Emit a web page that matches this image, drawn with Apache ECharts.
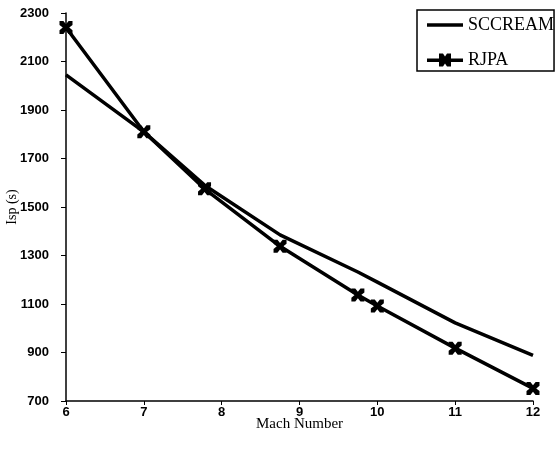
<!DOCTYPE html>
<html>
<head>
<meta charset="utf-8">
<script src="https://cdn.jsdelivr.net/npm/echarts@6/dist/echarts.min.js"></script>
<style>
  html, body { margin: 0; padding: 0; background: #fff; }
  #chart { width: 560px; height: 456px; }
</style>
</head>
<body>
<div id="chart"></div>
<script>
// Mach number vs Isp
const machScream = [6, 7, 7.78, 8.75, 9.75, 10, 11, 12]
const ispScream = [2045, 1810, 1590, 1385, 1232, 1190, 1022, 888]

const machRjpa = [6, 7, 7.78, 8.75, 9.75, 10, 11, 12]
const ispRjpa = [2240, 1810, 1575, 1338, 1137, 1092, 918, 752]

const starPath = 'path://M0,0 L6,0 L10,5 L14,0 L20,0 L20,6 L15,10 L20,14 L20,20 L14,20 L10,15 L6,20 L0,20 L0,14 L5,10 L0,6 Z'

const labelFont = {
  color: '#000',
  fontFamily: 'Liberation Sans',
  fontWeight: 'bold',
  fontSize: 13,
  formatter: v => String(v)
}

const option = {
  animation: false,
  grid: { left: 66, right: 27, top: 13, bottom: 55, outerBoundsMode: 'none', containLabel: false },
  legend: {
    orient: 'vertical',
    left: 417,
    top: 10,
    padding: [6, 0, 2, 10],
    itemWidth: 36,
    itemHeight: 14,
    itemGap: 17,
    borderColor: '#000',
    borderWidth: 1.5,
    textStyle: { color: '#000', fontFamily: 'Liberation Serif', fontSize: 18, padding: [8, 0, 0, 0] },
    data: [
      { name: 'SCCREAM', icon: 'path://M0,5 L36,5 L36,8.5 L0,8.5 Z' },
      { name: 'RJPA', icon: 'path://M0,5 L12,5 L12,0 L16,0 L18,3 L20,0 L24,0 L24,5 L36,5 L36,8.5 L24,8.5 L24,13 L20,13 L18,10 L16,13 L12,13 L12,8.5 L0,8.5 Z' }
    ]
  },
  xAxis: {
    type: 'value',
    min: 6,
    max: 12,
    interval: 1,
    name: 'Mach Number',
    nameLocation: 'middle',
    nameGap: 16,
    nameMoveOverlap: false,
    nameTextStyle: { color: '#000', fontFamily: 'Liberation Serif', fontSize: 15 },
    splitLine: { show: false },
    axisLine: { lineStyle: { color: '#000', width: 1.5 } },
    axisTick: { length: 4, lineStyle: { color: '#000' } },
    axisLabel: Object.assign({}, labelFont, { margin: 5 })
  },
  yAxis: {
    type: 'value',
    min: 700,
    max: 2300,
    interval: 200,
    name: 'Isp (s)',
    nameLocation: 'middle',
    nameGap: 47,
    nameMoveOverlap: false,
    nameTextStyle: { color: '#000', fontFamily: 'Liberation Serif', fontSize: 14 },
    splitLine: { show: false },
    axisLine: { show: true, lineStyle: { color: '#000', width: 1.5 } },
    axisTick: { show: true, length: 5, lineStyle: { color: '#000' } },
    axisLabel: Object.assign({}, labelFont, { margin: 17 })
  },
  series: [
    {
      name: 'SCCREAM',
      type: 'line',
      data: machScream.map((m, i) => [m, ispScream[i]]),
      showSymbol: false,
      lineStyle: { color: '#000', width: 3.5 },
      itemStyle: { color: '#000' }
    },
    {
      name: 'RJPA',
      type: 'line',
      data: machRjpa.map((m, i) => [m, ispRjpa[i]]),
      symbol: starPath,
      symbolSize: 13,
      lineStyle: { color: '#000', width: 3.5 },
      itemStyle: { color: '#000' }
    }
  ]
}

const chart = echarts.init(document.getElementById('chart'))
chart.setOption(option)
</script>
</body>
</html>
